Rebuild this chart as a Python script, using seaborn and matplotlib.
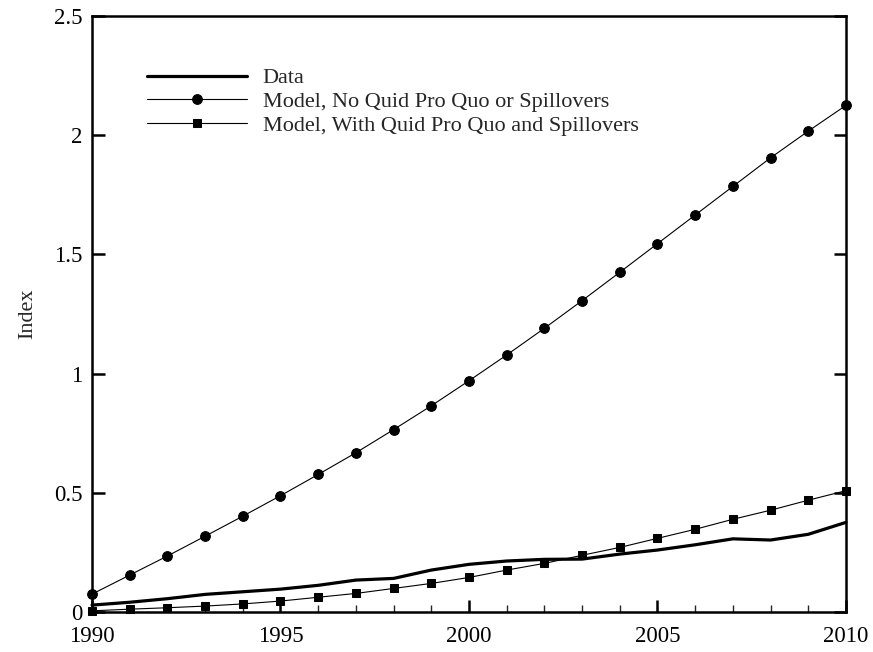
import numpy as np
import pandas as pd
import matplotlib
matplotlib.use("Agg")
import matplotlib.pyplot as plt
import seaborn as sns
from matplotlib.ticker import MultipleLocator

# values
years = list(range(1990, 2011))
data_index = [0.029, 0.041, 0.056, 0.074, 0.085, 0.096, 0.112, 0.134, 0.141, 0.176, 0.200,
              0.214, 0.221, 0.222, 0.243, 0.260, 0.282, 0.307, 0.302, 0.326, 0.376]
model_no_qpq = [0.075, 0.155, 0.235, 0.318, 0.402, 0.488, 0.577, 0.668, 0.765, 0.865, 0.970,
                1.078, 1.190, 1.306, 1.425, 1.545, 1.665, 1.785, 1.905, 2.017, 2.125]
model_with_qpq = [0.005, 0.012, 0.018, 0.025, 0.034, 0.046, 0.062, 0.078, 0.099, 0.120, 0.145,
                  0.176, 0.204, 0.238, 0.271, 0.309, 0.347, 0.389, 0.427, 0.469, 0.509]

labels = ["Data",
          "Model, No Quid Pro Quo or Spillovers",
          "Model, With Quid Pro Quo and Spillovers"]

df = pd.DataFrame({"Year": years, "Data": data_index,
                   labels[1]: model_no_qpq, labels[2]: model_with_qpq})

sns.set_style("ticks")
plt.rcParams["font.family"] = ["Liberation Serif", "DejaVu Serif"]

fig = plt.figure(figsize=(8.73, 6.52), dpi=100)
ax = fig.add_axes([0.1054, 0.0613, 0.8636, 0.9142])

sns.lineplot(x="Year", y="Data", data=df, ax=ax, color="black", lw=2.3,
             label=labels[0], clip_on=False)
sns.lineplot(x="Year", y=labels[1], data=df, ax=ax, color="black", lw=0.8,
             marker="o", markersize=7, markeredgecolor="black",
             label=labels[1], clip_on=False)
sns.lineplot(x="Year", y=labels[2], data=df, ax=ax, color="black", lw=0.8,
             marker="s", markersize=5.5, markeredgecolor="black",
             label=labels[2], clip_on=False)

ax.set_xlim(1990, 2010)
ax.set_ylim(0, 2.5)
ax.xaxis.set_major_locator(MultipleLocator(5))
ax.xaxis.set_minor_locator(MultipleLocator(1))
ax.set_yticks([0, 0.5, 1, 1.5, 2, 2.5])
ax.set_yticklabels(["0", "0.5", "1", "1.5", "2", "2.5"])

for s in ax.spines.values():
    s.set_linewidth(1.8)
    s.set_color("black")

ax.tick_params(axis="both", which="major", direction="in", length=9, width=1.8,
               labelsize=16.5, colors="black")
ax.tick_params(axis="x", which="major", pad=10)
ax.tick_params(axis="y", which="major", pad=7, right=True)
ax.tick_params(axis="x", which="minor", direction="in", length=5, width=1.0)
ax.tick_params(axis="x", which="both", top=False)

ax.set_xlabel("")
ax.set_ylabel("Index", fontsize=16, labelpad=12)

leg = ax.legend(loc="upper left", bbox_to_anchor=(0.073, 0.913), frameon=False,
                fontsize=16, handlelength=4.5, handletextpad=0.7,
                labelspacing=0.15, borderaxespad=0, borderpad=0)

fig.savefig("out.png", dpi=100)
